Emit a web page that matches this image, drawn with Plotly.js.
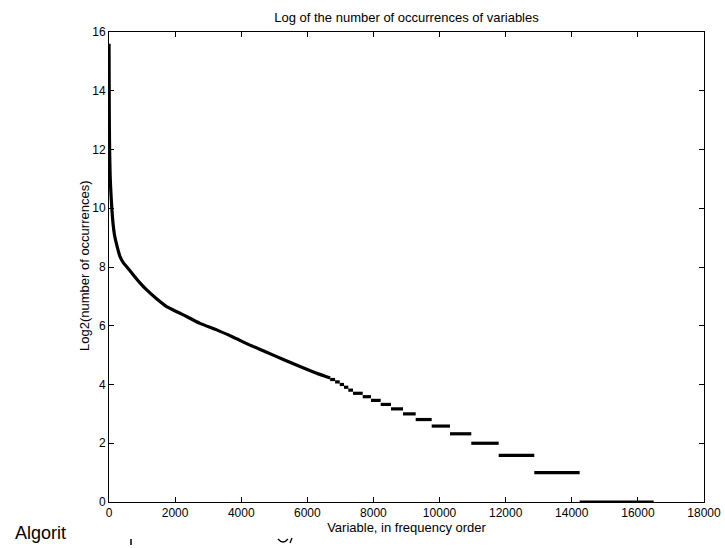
<!DOCTYPE html>
<html>
<head>
<meta charset="utf-8">
<script src="https://cdn.plot.ly/plotly-3.0.1.min.js"></script>
<style>
  html, body { margin: 0; padding: 0; background: #fff; }
  #chart { width: 725px; height: 548px; }
</style>
</head>
<body>
<div id="chart"></div>
<script>
// Smooth head of the curve: rank of variable vs log2(number of occurrences)
const headRank = [1, 2, 3, 5, 8, 12, 20, 35, 50, 70, 95, 121, 165, 221, 280, 333, 430, 535, 736, 930, 1140, 1440, 1745, 2248, 2753, 3258, 3761, 4265, 4770, 5273, 5778, 6283, 6690];
const headLog2 = [15.6, 15.3, 14.9, 14.2, 13.4, 12.7, 11.9, 11.1, 10.7, 10.28, 9.85, 9.49, 9.1, 8.81, 8.55, 8.35, 8.15, 8.01, 7.73, 7.47, 7.22, 6.92, 6.65, 6.37, 6.08, 5.86, 5.61, 5.34, 5.10, 4.85, 4.61, 4.38, 4.22];

// Tail: plateaus where many variables share the same small count
const stepCount = [18, 17, 16, 15, 14, 13, 12, 11, 10, 9, 8, 7, 6, 5, 4, 3, 2, 1];
const stepStart = [6690, 6840, 6980, 7110, 7240, 7381, 7675, 7926, 8219, 8531, 8894, 9278, 9762, 10315, 10960, 11789, 12866, 14238];
const lastRank = 16477;

const xTicks = [0, 2000, 4000, 6000, 8000, 10000, 12000, 14000, 16000, 18000];
const yTicks = [0, 2, 4, 6, 8, 10, 12, 14, 16];

const titleText = 'Log of the number of occurrences of variables';
const xTitleText = 'Variable, in frequency order';
const yTitleText = 'Log2(number of occurrences)';

// build the trace from the arrays above
const xs = headRank.slice();
const ys = headLog2.slice();
xs.push(null); ys.push(null);
for (let i = 0; i < stepCount.length; i++) {
  const s = stepStart[i];
  const e = (i + 1 < stepStart.length) ? stepStart[i + 1] : lastRank;
  const v = Math.log2(stepCount[i]);
  xs.push(s, e, null);
  ys.push(v, v, null);
}

const FONT = 'Liberation Sans, Arial, Helvetica, sans-serif';

const trace = {
  type: 'scatter',
  mode: 'lines',
  x: xs,
  y: ys,
  connectgaps: false,
  line: { color: '#000', width: 3.2, shape: 'spline', smoothing: 0.5 },
  hoverinfo: 'skip',
  cliponaxis: false
};

const axisCommon = {
  showgrid: false,
  zeroline: false,
  showline: true,
  linecolor: '#000',
  linewidth: 1,
  mirror: 'ticks',
  ticks: 'inside',
  ticklen: 5,
  tickwidth: 1,
  tickcolor: '#000',
  tickfont: { family: FONT, size: 12, color: '#000' },
  automargin: false,
  fixedrange: true
};

const layout = {
  width: 725,
  height: 548,
  margin: { l: 109, r: 21, t: 32, b: 46 },
  paper_bgcolor: '#fff',
  plot_bgcolor: '#fff',
  showlegend: false,
  title: {
    text: titleText,
    font: { family: FONT, size: 13, color: '#000' },
    x: 0.5, xanchor: 'center', xref: 'paper',
    y: 0.968, yref: 'container', yanchor: 'middle'
  },
  xaxis: Object.assign({}, axisCommon, {
    range: [0, 18000],
    tickmode: 'array',
    tickvals: xTicks,
    ticktext: xTicks.map(String),
    title: { text: xTitleText, font: { family: FONT, size: 13, color: '#000' }, standoff: 0 }
  }),
  yaxis: Object.assign({}, axisCommon, {
    range: [0, 16],
    tickmode: 'array',
    tickvals: yTicks,
    ticktext: yTicks.map(String)
  }),
  annotations: [
    {
      text: yTitleText, xref: 'paper', yref: 'paper',
      x: (84 - 109) / 595, y: (502 - 266) / 470,
      xanchor: 'center', yanchor: 'middle', textangle: -90, showarrow: false,
      font: { family: FONT, size: 13, color: '#000' }
    },
    {
      text: 'Algorit', xref: 'paper', yref: 'paper',
      x: (13 - 109) / 595, y: (502 - 533) / 470,
      xanchor: 'left', yanchor: 'middle', showarrow: false,
      font: { family: FONT, size: 18, color: '#000' }
    }
  ],
  shapes: [
    { type: 'line', xref: 'paper', yref: 'paper',
      x0: (131 - 109) / 595, x1: (131 - 109) / 595,
      y0: (502 - 539) / 470, y1: (502 - 545) / 470,
      line: { color: '#000', width: 1.5 } },
    { type: 'path', xref: 'paper', yref: 'paper',
      path: 'M ' + ((278 - 109) / 595) + ' ' + ((502 - 539) / 470) +
            ' Q ' + ((283 - 109) / 595) + ' ' + ((502 - 545) / 470) +
            ' ' + ((288 - 109) / 595) + ' ' + ((502 - 539) / 470),
      line: { color: '#000', width: 1.3 } },
    { type: 'line', xref: 'paper', yref: 'paper',
      x0: (292 - 109) / 595, x1: (290 - 109) / 595,
      y0: (502 - 538) / 470, y1: (502 - 543) / 470,
      line: { color: '#000', width: 1.3 } }
  ]
};

Plotly.newPlot('chart', [trace], layout, { displayModeBar: false, staticPlot: true });
</script>
</body>
</html>
